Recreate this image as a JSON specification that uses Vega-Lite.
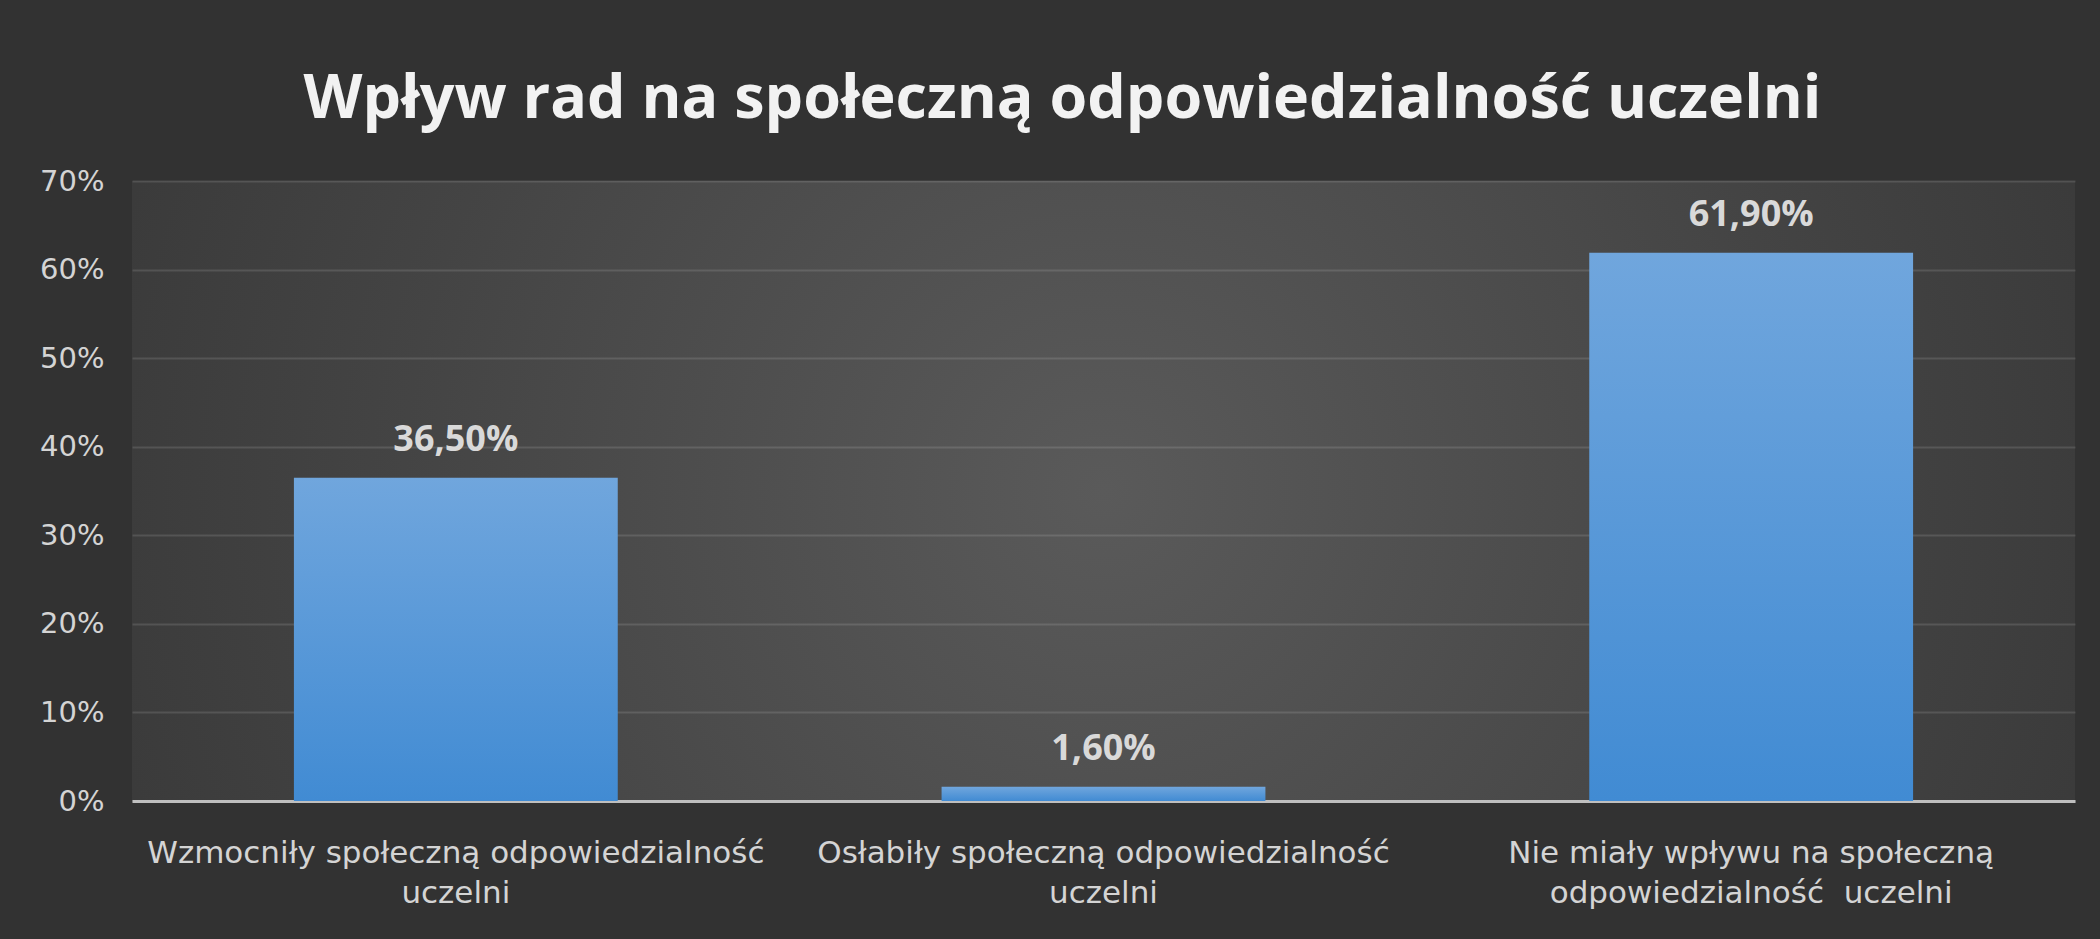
{
  "$schema": "https://vega.github.io/schema/vega-lite/v6.json",
  "autosize": "none",
  "width": 1943,
  "height": 620,
  "padding": {"left": 132, "top": 181, "right": 25, "bottom": 138},
  "background": "#323232",
  "title": {
    "text": "Wpływ rad na społeczną odpowiedzialność uczelni",
    "font": "Open Sans",
    "fontSize": 61,
    "fontWeight": "bold",
    "color": "#f2f2f2",
    "anchor": "middle",
    "frame": "group",
    "dx": -41,
    "offset": 36
  },
  "config": {
    "locale": {"number": {"decimal": ",", "thousands": " ", "grouping": [3], "currency": ["", " zł"]}},
    "view": {
      "stroke": null,
      "fill": {
        "gradient": "radial",
        "x1": 0.5, "y1": 0.5, "r1": 0,
        "x2": 0.5, "y2": 0.5, "r2": 0.72,
        "stops": [
          {"offset": 0, "color": "#5a5a5a"},
          {"offset": 0.5, "color": "#444444"},
          {"offset": 1, "color": "#303030"}
        ]
      }
    }
  },
  "data": {
    "values": [
      {"kategoria": "Wzmocniły społeczną odpowiedzialność uczelni", "udzial": 0.365},
      {"kategoria": "Osłabiły społeczną odpowiedzialność uczelni", "udzial": 0.016},
      {"kategoria": "Nie miały wpływu na społeczną odpowiedzialność uczelni", "udzial": 0.619}
    ]
  },
  "encoding": {
    "x": {
      "field": "kategoria",
      "type": "nominal",
      "sort": null,
      "scale": {"paddingInner": 0.5, "paddingOuter": 0.25},
      "axis": {
        "title": null,
        "labelAngle": 0,
        "labelFont": "DejaVu Sans",
        "labelFontSize": 31,
        "labelLineHeight": 40,
        "labelColor": "#d4d4d4",
        "labelPadding": 37,
        "labelLimit": 0,
        "labelBaseline": "top",
        "ticks": false,
        "domain": true,
        "domainColor": "#bfbfbf",
        "domainWidth": 3,
        "labelExpr": "datum.label == 'Nie miały wpływu na społeczną odpowiedzialność uczelni' ? ['Nie miały wpływu na społeczną', 'odpowiedzialność\u00a0 uczelni'] : [replace(datum.label, ' uczelni', ''), 'uczelni']"
      }
    },
    "y": {
      "field": "udzial",
      "type": "quantitative",
      "scale": {"domain": [0, 0.7]},
      "axis": {
        "title": null,
        "values": [0, 0.1, 0.2, 0.3, 0.4, 0.5, 0.6, 0.7],
        "format": ".0%",
        "labelFont": "DejaVu Sans",
        "labelFontSize": 29,
        "labelColor": "#d4d4d4",
        "labelPadding": 28,
        "ticks": false,
        "domain": false,
        "grid": true,
        "gridColor": "#ffffff",
        "gridOpacity": 0.12,
        "gridWidth": 2
      }
    }
  },
  "layer": [
    {
      "mark": {
        "type": "bar",
        "color": {
          "gradient": "linear",
          "x1": 0, "y1": 0, "x2": 0, "y2": 1,
          "stops": [
            {"offset": 0, "color": "#70a6dd"},
            {"offset": 1, "color": "#418bd3"}
          ]
        }
      }
    },
    {
      "mark": {
        "type": "text",
        "font": "Open Sans",
        "fontSize": 36,
        "fontWeight": "bold",
        "color": "#d9d9d9",
        "baseline": "alphabetic",
        "dy": -27
      },
      "encoding": {
        "text": {"field": "udzial", "type": "quantitative", "format": ".2%"}
      }
    }
  ]
}
